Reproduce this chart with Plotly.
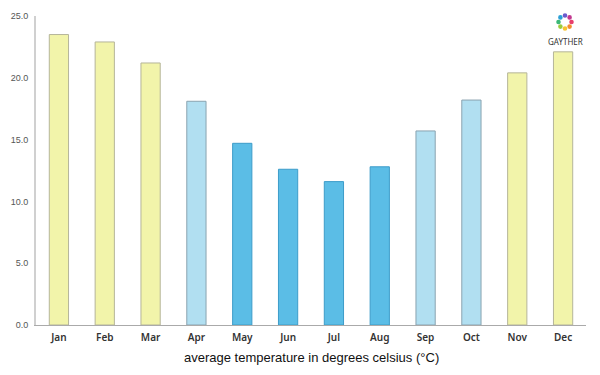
import plotly.graph_objects as go
import math

months = ["Jan", "Feb", "Mar", "Apr", "May", "Jun", "Jul", "Aug", "Sep", "Oct", "Nov", "Dec"]
temps = [23.5, 22.9, 21.2, 18.1, 14.7, 12.6, 11.6, 12.8, 15.7, 18.2, 20.4, 22.1]
fill_colors = ["#f2f4aa", "#f2f4aa", "#f2f4aa", "#b1dff1", "#5bbde6", "#5bbde6",
               "#5bbde6", "#5bbde6", "#b1dff1", "#b1dff1", "#f2f4aa", "#f2f4aa"]
line_colors = ["#b5b59a", "#b5b59a", "#b5b59a", "#8aa3b0", "#3d9cc9", "#3d9cc9",
               "#3d9cc9", "#3d9cc9", "#8aa3b0", "#8aa3b0", "#b5b59a", "#b5b59a"]
y_ticks = [0, 5, 10, 15, 20, 25]
x_title = "average temperature in degrees celsius (°C)"

fig = go.Figure(go.Bar(
    x=months, y=temps,
    marker=dict(color=fill_colors, line=dict(color=line_colors, width=1)),
    width=0.42,
))

# page is offset by 8px body margin; plot area target: x 36..586, y 16..325 (page px)
fig.update_layout(
    width=592, height=367,
    margin=dict(l=28, r=14, t=8, b=50, autoexpand=False),
    paper_bgcolor="white", plot_bgcolor="white",
    showlegend=False,
    font=dict(family="Liberation Sans, Arial, sans-serif"),
    xaxis=dict(
        automargin=False,
        showline=True, linecolor="#aaaaaa", linewidth=1,
        tickfont=dict(size=10, color="#333333", family="Noto Sans, sans-serif", weight=600),
        ticks="", showgrid=False, ticklabelstandoff=3,
    ),
    yaxis=dict(
        automargin=False,
        range=[0, 25], tickvals=y_ticks,
        ticktext=[f"{v:.1f}" for v in y_ticks],
        showline=True, linecolor="#d0d0d0", linewidth=2,
        showgrid=False, zeroline=False, ticks="", ticklabelstandoff=4,
        tickfont=dict(size=9, color="#555555"),
    ),
)

def px_x(p):
    return (p - 36) / 550

def px_y(p):
    return (325 - p) / 309

fig.add_annotation(text=x_title, xref="paper", yref="paper",
                   x=px_x(311), y=px_y(357), showarrow=False,
                   xanchor="center", yanchor="middle",
                   font=dict(size=13, color="#111111", family="Liberation Sans, Arial, sans-serif"))

# logo: ring of colored dots + text
cx, cy, r = 565, 22, 6.5
logo_colors = ["#e83e6c", "#f28a30", "#f7c531", "#9ccc3c", "#3cb878", "#2a9fd6", "#6a5acd", "#c2378f"]
shapes = []
for i, c in enumerate(logo_colors):
    a = 2 * math.pi * i / len(logo_colors)
    px = cx + r * math.cos(a)
    py = cy + r * math.sin(a)
    shapes.append(dict(type="circle", xref="paper", yref="paper",
                       x0=px_x(px - 2.3), x1=px_x(px + 2.3),
                       y0=px_y(py + 2.3), y1=px_y(py - 2.3),
                       fillcolor=c, line=dict(width=0)))
fig.update_layout(shapes=shapes)
fig.add_annotation(text="GAYTHER", xref="paper", yref="paper",
                   x=px_x(565), y=px_y(41), showarrow=False,
                   xanchor="center", yanchor="middle",
                   font=dict(size=8, color="#333333", family="Noto Sans, sans-serif"))

fig.write_html("out.html")
